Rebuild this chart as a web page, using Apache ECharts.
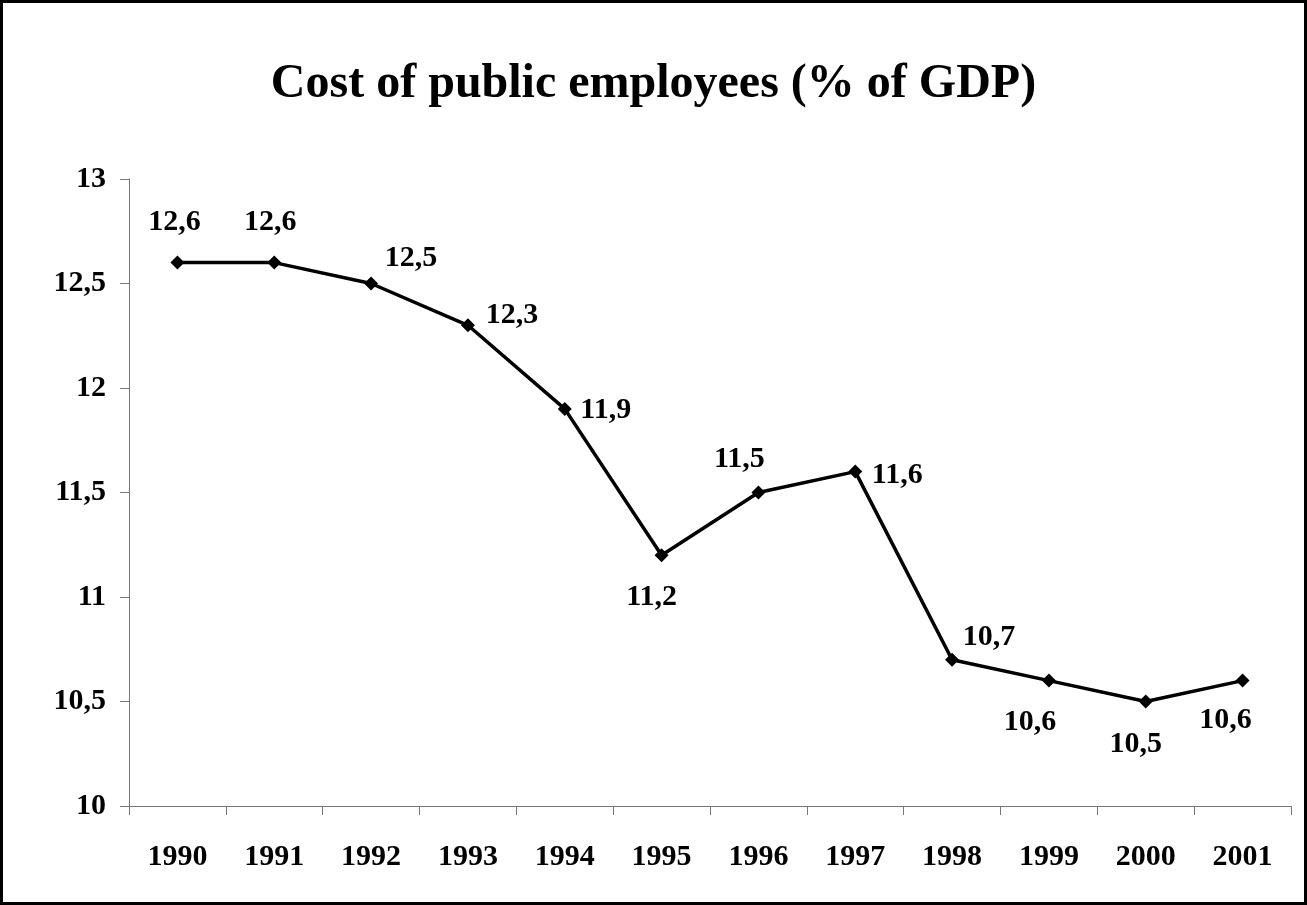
<!DOCTYPE html>
<html>
<head>
<meta charset="utf-8">
<title>Cost of public employees (% of GDP)</title>
<script src="https://cdn.jsdelivr.net/npm/echarts@6/dist/echarts.min.js"></script>
<style>
  html, body { margin: 0; padding: 0; background: #fff; }
  #chart { width: 1307px; height: 905px; }
</style>
</head>
<body>
<div id="chart"></div>
<script>
// Years on the category axis
const years = ['1990', '1991', '1992', '1993', '1994', '1995', '1996', '1997', '1998', '1999', '2000', '2001'];
// Cost of public employees, % of GDP
const costShare = [12.6, 12.6, 12.5, 12.3, 11.9, 11.2, 11.5, 11.6, 10.7, 10.6, 10.5, 10.6];
// Value axis range and step
const yMin = 10;
const yMax = 13;
const yStep = 0.5;

// Where each value label sits relative to its marker, in pixels [dx, dy]
const labelOffsets = [
  [-3, -40], [-4, -40], [40, -25], [44, -10], [41, 1], [-10, 42],
  [-19, -33], [42, 4], [37, -22], [-19, 42], [-10, 43], [-17, 40]
];

const fontFamily = '"Liberation Serif", "Times New Roman", serif';
const commaDecimal = v => String(v).replace('.', ',');

const chart = echarts.init(document.getElementById('chart'), null, { renderer: 'canvas' });

chart.setOption({
  animation: false,
  backgroundColor: '#ffffff',
  title: {
    text: 'Cost of public employees (% of GDP)',
    left: 'center',
    top: 56,
    textStyle: { fontFamily, fontSize: 48, fontWeight: 'bold', color: '#000' }
  },
  graphic: [{
    type: 'rect',
    shape: { x: 1.5, y: 1.5, width: 1304, height: 902 },
    style: { fill: 'none', stroke: '#000', lineWidth: 3 },
    silent: true
  }],
  grid: { left: 129, right: 16, top: 179, bottom: 99, containLabel: false },
  xAxis: {
    type: 'category',
    data: years,
    boundaryGap: true,
    axisLine: { lineStyle: { color: '#777', width: 1 } },
    axisTick: { show: true, length: 9, alignWithLabel: false, lineStyle: { color: '#777' } },
    axisLabel: { margin: 36, fontFamily, fontSize: 30, fontWeight: 'bold', color: '#000' },
    splitLine: { show: false }
  },
  yAxis: {
    type: 'value',
    min: yMin,
    max: yMax,
    interval: yStep,
    axisLine: { show: true, lineStyle: { color: '#777', width: 1 } },
    axisTick: { show: true, length: 9, lineStyle: { color: '#777' } },
    axisLabel: { margin: 23, fontFamily, fontSize: 30, fontWeight: 'bold', color: '#000', formatter: commaDecimal },
    splitLine: { show: false }
  },
  series: [{
    type: 'line',
    data: costShare,
    symbol: 'diamond',
    symbolSize: 14,
    itemStyle: { color: '#000' },
    lineStyle: { color: '#000', width: 3.5 },
    label: {
      show: true,
      position: 'inside',
      align: 'center',
      verticalAlign: 'middle',
      fontFamily,
      fontSize: 30,
      fontWeight: 'bold',
      color: '#000',
      formatter: p => commaDecimal(p.value)
    },
    labelLayout: p => ({
      dx: labelOffsets[p.dataIndex][0],
      dy: labelOffsets[p.dataIndex][1],
      hideOverlap: false
    })
  }]
});
</script>
</body>
</html>
